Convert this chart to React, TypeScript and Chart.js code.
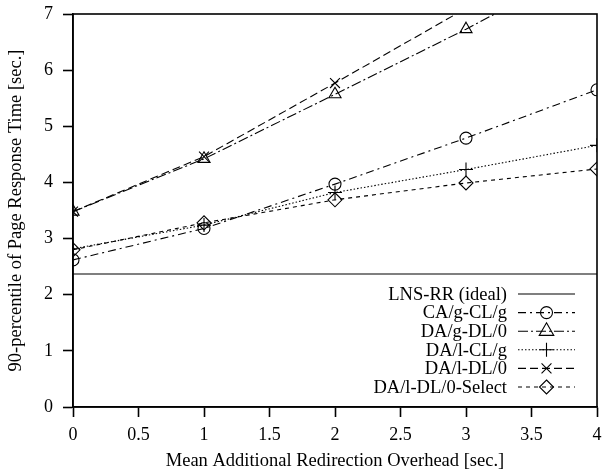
import React, { useEffect, useRef } from "react";
import { Chart, registerables } from "chart.js";

Chart.register(...registerables);

// Mean additional redirection overhead [sec.]
const overheads = [0, 1, 2, 3, 4];

// 90-percentile of page response time [sec.] per scheme
const lnsRrIdeal = [2.37, 2.37, 2.37, 2.37, 2.37];
const caGclG = [2.62, 3.18, 3.97, 4.79, 5.65];
const daGdl0 = [3.48, 4.42, 5.57, 6.73, 7.96];
const daLclG = [2.82, 3.24, 3.82, 4.23, 4.66];
const daLdl0 = [3.48, 4.46, 5.77, 7.1, 8.4];
const daLdl0Select = [2.8, 3.28, 3.69, 3.99, 4.24];

const seriesLabels = [
  "LNS-RR (ideal)",
  "CA/g-CL/g",
  "DA/g-DL/0",
  "DA/l-CL/g",
  "DA/l-DL/0",
  "DA/l-DL/0-Select",
];

const FONT_FAMILY = '"Liberation Serif", "DejaVu Serif", serif';
const FONT_SIZE = 18;
const TEXT_SIZE = 18.5;

type Style = {
  dash: number[];
  point: string | false;
  radius: number;
};

const styles: Style[] = [
  { dash: [], point: false, radius: 0 },
  { dash: [8, 4, 2, 4], point: "circle", radius: 6 },
  { dash: [10, 3, 2, 3], point: "triangle", radius: 7 },
  { dash: [1.5, 2], point: "cross", radius: 7 },
  { dash: [8, 4], point: "crossRot", radius: 7 },
  { dash: [4, 4], point: "rectRot", radius: 7 },
];

function drawMarker(ctx: CanvasRenderingContext2D, style: string, x: number, y: number, r: number) {
  ctx.save();
  ctx.setLineDash([]);
  ctx.lineWidth = 1.1;
  ctx.strokeStyle = "#000";
  ctx.beginPath();
  if (style === "circle") {
    ctx.arc(x, y, r, 0, Math.PI * 2);
  } else if (style === "triangle") {
    const s = r * 1.2;
    ctx.moveTo(x, y - s);
    ctx.lineTo(x + s * 0.866, y + s * 0.5);
    ctx.lineTo(x - s * 0.866, y + s * 0.5);
    ctx.closePath();
  } else if (style === "cross") {
    ctx.moveTo(x - r, y);
    ctx.lineTo(x + r, y);
    ctx.moveTo(x, y - r);
    ctx.lineTo(x, y + r);
  } else if (style === "crossRot") {
    const d = r * 0.707;
    ctx.moveTo(x - d, y - d);
    ctx.lineTo(x + d, y + d);
    ctx.moveTo(x - d, y + d);
    ctx.lineTo(x + d, y - d);
  } else if (style === "rectRot") {
    ctx.moveTo(x, y - r);
    ctx.lineTo(x + r, y);
    ctx.lineTo(x, y + r);
    ctx.lineTo(x - r, y);
    ctx.closePath();
  }
  ctx.stroke();
  ctx.restore();
}

// Frame around the plotting area (top and right sides included)
const framePlugin = {
  id: "frame",
  afterDatasetsDraw(chart: any) {
    const { ctx, chartArea } = chart;
    ctx.save();
    ctx.strokeStyle = "#000";
    ctx.lineWidth = 1.6;
    ctx.setLineDash([]);
    ctx.strokeRect(chartArea.left, chartArea.top, chartArea.right - chartArea.left, chartArea.bottom - chartArea.top);
    ctx.restore();
  },
};

// Key in the lower-right corner: right-aligned label, then line sample with marker
const keyPlugin = {
  id: "key",
  afterDraw(chart: any) {
    const { ctx, chartArea } = chart;
    const textRight = chartArea.right - 90;
    const lineStart = chartArea.right - 79;
    const lineEnd = chartArea.right - 22;
    const firstRow = chartArea.bottom - 113;
    const rowStep = 18.6;
    ctx.save();
    ctx.font = `${TEXT_SIZE}px ${FONT_FAMILY}`;
    ctx.textAlign = "right";
    ctx.textBaseline = "middle";
    ctx.fillStyle = "#000";
    seriesLabels.forEach((label, i) => {
      const y = firstRow + i * rowStep;
      const st = styles[i];
      ctx.fillText(label, textRight, y + 1);
      ctx.save();
      ctx.strokeStyle = "#000";
      ctx.lineWidth = 1.1;
      ctx.setLineDash(st.dash);
      ctx.beginPath();
      ctx.moveTo(lineStart, y);
      ctx.lineTo(lineEnd, y);
      ctx.stroke();
      ctx.restore();
      if (st.point) drawMarker(ctx, st.point, (lineStart + lineEnd) / 2, y, st.radius);
    });
    ctx.restore();
  },
};

const seriesValues = [lnsRrIdeal, caGclG, daGdl0, daLclG, daLdl0, daLdl0Select];

export default function App() {
  const canvasRef = useRef<HTMLCanvasElement | null>(null);

  useEffect(() => {
    if (!canvasRef.current) return;
    const datasets = seriesLabels.map((label, i) => ({
      label,
      data: overheads.map((x, j) => ({ x, y: seriesValues[i][j] })),
      borderColor: "#000",
      borderWidth: 1.1,
      borderDash: styles[i].dash,
      pointStyle: styles[i].point || "circle",
      pointRadius: styles[i].radius,
      pointHoverRadius: styles[i].radius,
      pointBorderColor: "#000",
      pointBorderWidth: 1.1,
      pointBackgroundColor: "rgba(0,0,0,0)",
      fill: false,
      tension: 0,
      clip: 0,
    }));

    const chart = new Chart(canvasRef.current, {
      type: "line",
      data: { datasets },
      plugins: [framePlugin, keyPlugin],
      options: {
        animation: false,
        responsive: true,
        maintainAspectRatio: false,
        layout: { padding: { top: 14, right: 12, left: 0, bottom: 0 } },
        plugins: {
          legend: { display: false },
          tooltip: { enabled: false },
        },
        scales: {
          x: {
            type: "linear",
            min: 0,
            max: 4,
            ticks: {
              stepSize: 0.5,
              color: "#000",
              padding: 7,
              font: { family: FONT_FAMILY, size: FONT_SIZE },
              callback: (v: any) => String(v),
            },
            grid: {
              display: true,
              drawOnChartArea: false,
              drawTicks: true,
              tickLength: 10,
              tickColor: "#000",
              tickWidth: 1.6,
            },
            border: { display: true, color: "#000", width: 1.6 },
            title: {
              display: true,
              text: "Mean Additional Redirection Overhead [sec.]",
              color: "#000",
              font: { family: FONT_FAMILY, size: TEXT_SIZE },
              padding: { top: 0, bottom: 2 },
            },
            afterFit(scale: any) {
              scale.height = 67;
              scale.paddingLeft = 0;
              scale.paddingRight = 0;
            },
          },
          y: {
            type: "linear",
            min: 0,
            max: 7,
            ticks: {
              stepSize: 1,
              color: "#000",
              padding: 10,
              font: { family: FONT_FAMILY, size: FONT_SIZE },
              callback: (v: any) => String(v),
            },
            grid: {
              display: true,
              drawOnChartArea: false,
              drawTicks: true,
              tickLength: 10,
              tickColor: "#000",
              tickWidth: 1.6,
            },
            border: { display: true, color: "#000", width: 1.6 },
            title: {
              display: true,
              text: "90-percentile of Page Response Time [sec.]",
              color: "#000",
              font: { family: FONT_FAMILY, size: TEXT_SIZE },
              padding: { top: 5, bottom: 0 },
            },
            afterFit(scale: any) {
              scale.width = 73;
              scale.paddingTop = 0;
              scale.paddingBottom = 0;
            },
          },
        },
      },
    });
    return () => chart.destroy();
  }, []);

  return (
    <div style={{ position: "fixed", left: 0, top: 0, width: 609, height: 474, background: "#fff" }}>
      <canvas ref={canvasRef} />
    </div>
  );
}
